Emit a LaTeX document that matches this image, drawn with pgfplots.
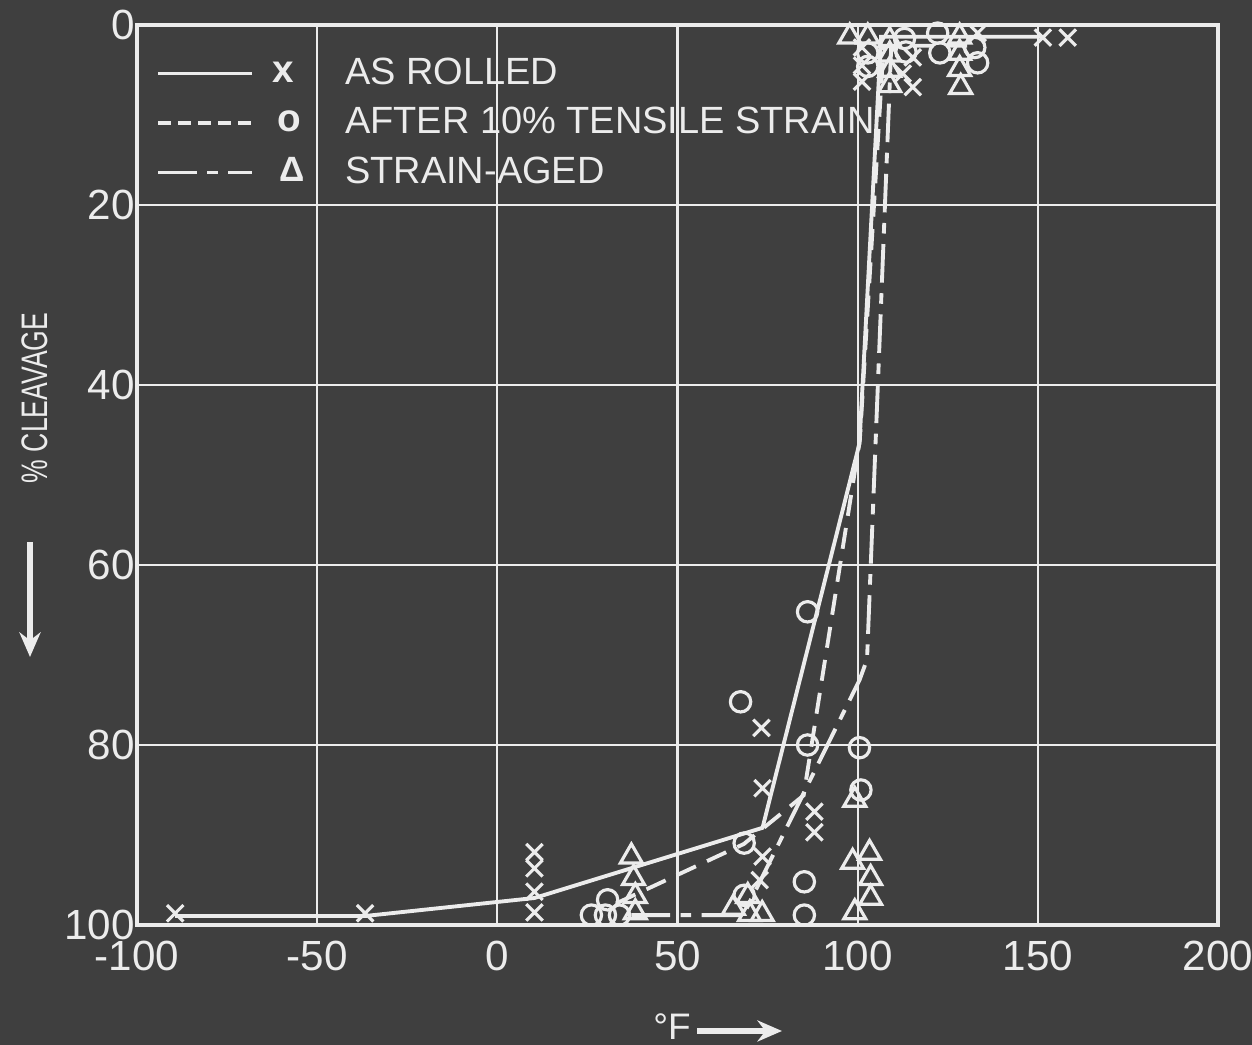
\documentclass[border=0pt]{standalone}
\usepackage{pgfplots}
\pgfplotsset{compat=1.18}
\usepackage{fontspec}
\setmainfont{Liberation Sans}
\usetikzlibrary{arrows.meta}
\definecolor{board}{RGB}{63,63,63}
\definecolor{chalk}{RGB}{236,236,236}

\begin{document}
\begin{tikzpicture}[x=1cm,y=1cm]
\fill[board] (0,0) rectangle (12.52,10.45);
\useasboundingbox (0,0) rectangle (12.52,10.45);
\begin{axis}[
  at={(1.37cm,1.20cm)}, anchor=south west,
  width=10.81cm, height=9.00cm, scale only axis,
  xmin=-100, xmax=200, ymin=0, ymax=100, y dir=reverse,
  xtick={-100,-50,...,200}, ytick={0,20,...,100},
  grid=major, major grid style={chalk, line width=0.6pt},
  axis line style={chalk, line width=1.4pt},
  tick style={draw=none},
  ticklabel style={text=chalk, font=\fontsize{12}{12}\selectfont},
  yticklabel style={xshift=0.1cm},
  xticklabel style={yshift=-0.04cm},
  /pgf/number format/assume math mode=true,
  clip=false,
  legend cell align=left,
  legend style={draw=none, fill=none, at={(0.0074,0.967)}, anchor=north west,
    font=\fontsize{10.8}{10.8}\selectfont, text=chalk,
    row sep=0.195cm, column sep=0pt,
    nodes={inner sep=0pt, text height=0.2cm, text depth=0.08cm}},
]
% legend samples: line style, symbol, then the description
\addlegendimage{draw=none, mark=none, legend image code/.code={
  \draw[chalk, line width=1.1pt] (0cm,0.05cm) -- (0.94cm,0.05cm);
  \node[text=chalk, inner sep=0pt, font=\bfseries\fontsize{11}{11}\selectfont] at (1.14cm,0.02cm) {x};
  \path[draw=none, fill=none] (0cm,-0.14cm) rectangle (1.87cm,0.14cm);}}
\addlegendentry{AS ROLLED}
\addlegendimage{draw=none, mark=none, legend image code/.code={
  \draw[chalk, line width=1.1pt, dash pattern=on 3.7pt off 2pt] (0cm,0.05cm) -- (0.94cm,0.05cm);
  \node[text=chalk, inner sep=0pt, font=\bfseries\fontsize{11}{11}\selectfont] at (1.19cm,0.02cm) {o};
  \path[draw=none, fill=none] (0cm,-0.14cm) rectangle (1.87cm,0.14cm);}}
\addlegendentry{AFTER 10\% TENSILE STRAIN}
\addlegendimage{draw=none, mark=none, legend image code/.code={
  \draw[chalk, line width=1.1pt, dash pattern=on 11pt off 3pt on 3pt off 3pt] (0cm,0.05cm) -- (0.94cm,0.05cm);
  \node[text=chalk, inner sep=0pt, font=\bfseries\fontsize{10}{10}\selectfont] at (1.21cm,0.02cm) {Δ};
  \path[draw=none, fill=none] (0cm,-0.14cm) rectangle (1.87cm,0.14cm);}}
\addlegendentry{STRAIN-AGED}

% as rolled: fitted curve and specimens
\addplot[chalk, line width=1.1pt, forget plot] coordinates {
  (-89.4,99) (-36.7,99) (10.3,97) (73.6,89.2) (100.5,46.5) (106.5,1.3) (151,1.3)};
\addplot[only marks, mark=x, mark size=3.3pt, chalk, line width=0.9pt, forget plot] coordinates {
  (-89.4,98.7) (-36.7,98.7) (10.3,91.9) (10.3,93.7) (10.3,96.3) (10.3,98.6)
  (73.3,78.1) (73.6,84.8) (73.6,92.4) (72.8,95) (88,87.4) (88,89.7)
  (101.2,2.5) (101.2,4.5) (101.2,6.3) (115.3,3.6) (115.3,6.9) (112.5,5.4)
  (133.3,0.9) (151.4,1.4) (158.3,1.4)};

% after 10% tensile strain
\addplot[chalk, line width=1.1pt, dash pattern=on 6pt off 3.5pt, forget plot] coordinates {
  (33,97.6) (68.4,91) (85,85.6) (100.6,46.1) (107.2,2.3) (133,2.3)};
\addplot[only marks, mark=o, mark size=2.9pt, chalk, line width=0.9pt, forget plot] coordinates {
  (26.1,98.9) (30,98.9) (30.6,97.2) (33.9,98.9)
  (67.5,75.2) (68.5,90.9) (68.5,96.7)
  (86.1,65.2) (86.1,80) (85.2,95.2) (85.2,98.9)
  (100.5,80.3) (100.9,85)
  (102.8,3.1) (102.8,4.6) (113,1.5) (113.4,3.0) (122.2,0.9) (122.8,3.1)
  (132.5,2.5) (133.3,4.2)};

% strain-aged
\addplot[chalk, line width=1.1pt, dash pattern=on 11pt off 3pt on 3pt off 3pt, forget plot] coordinates {
  (37.2,98.9) (68.3,98.9) (100.5,72.8) (102.6,70.5) (109.3,2.5)};
\addplot[only marks, mark=triangle, mark size=3.6pt, chalk, line width=0.9pt, forget plot] coordinates {
  (37.2,92.4) (37.8,94.8) (38.3,96.8) (38.3,98.6)
  (65.5,98.1) (69.5,96.8) (70,98.8) (73.5,98.8)
  (99.2,86.1) (98.6,93) (103.3,92) (103.6,94.8) (103.6,97) (99.2,98.6)
  (97.8,1.3) (102.8,1.3)
  (108.9,1.7) (108.9,3.3) (108.9,5) (108.9,6.7)
  (128.3,1.3) (128.3,3.1) (128.3,4.9) (128.6,6.9)};
\end{axis}

% axis titles
\node[text=chalk, rotate=90, font=\fontsize{10.5}{10.5}\selectfont] at (0.35,6.47)
  {\scalebox{0.72}[1]{\% CLEAVAGE}};
\draw[chalk, line width=1.6pt, -{Stealth[length=7pt,width=6pt]}] (0.30,5.03) -- (0.30,3.88);
\node[text=chalk, anchor=base, inner sep=0pt, font=\fontsize{10.5}{10.5}\selectfont] at (6.72,0.05) {°F};
\draw[chalk, line width=1.6pt, -{Stealth[length=7pt,width=6pt]}] (6.97,0.14) -- (7.82,0.14);
\end{tikzpicture}
\end{document}
